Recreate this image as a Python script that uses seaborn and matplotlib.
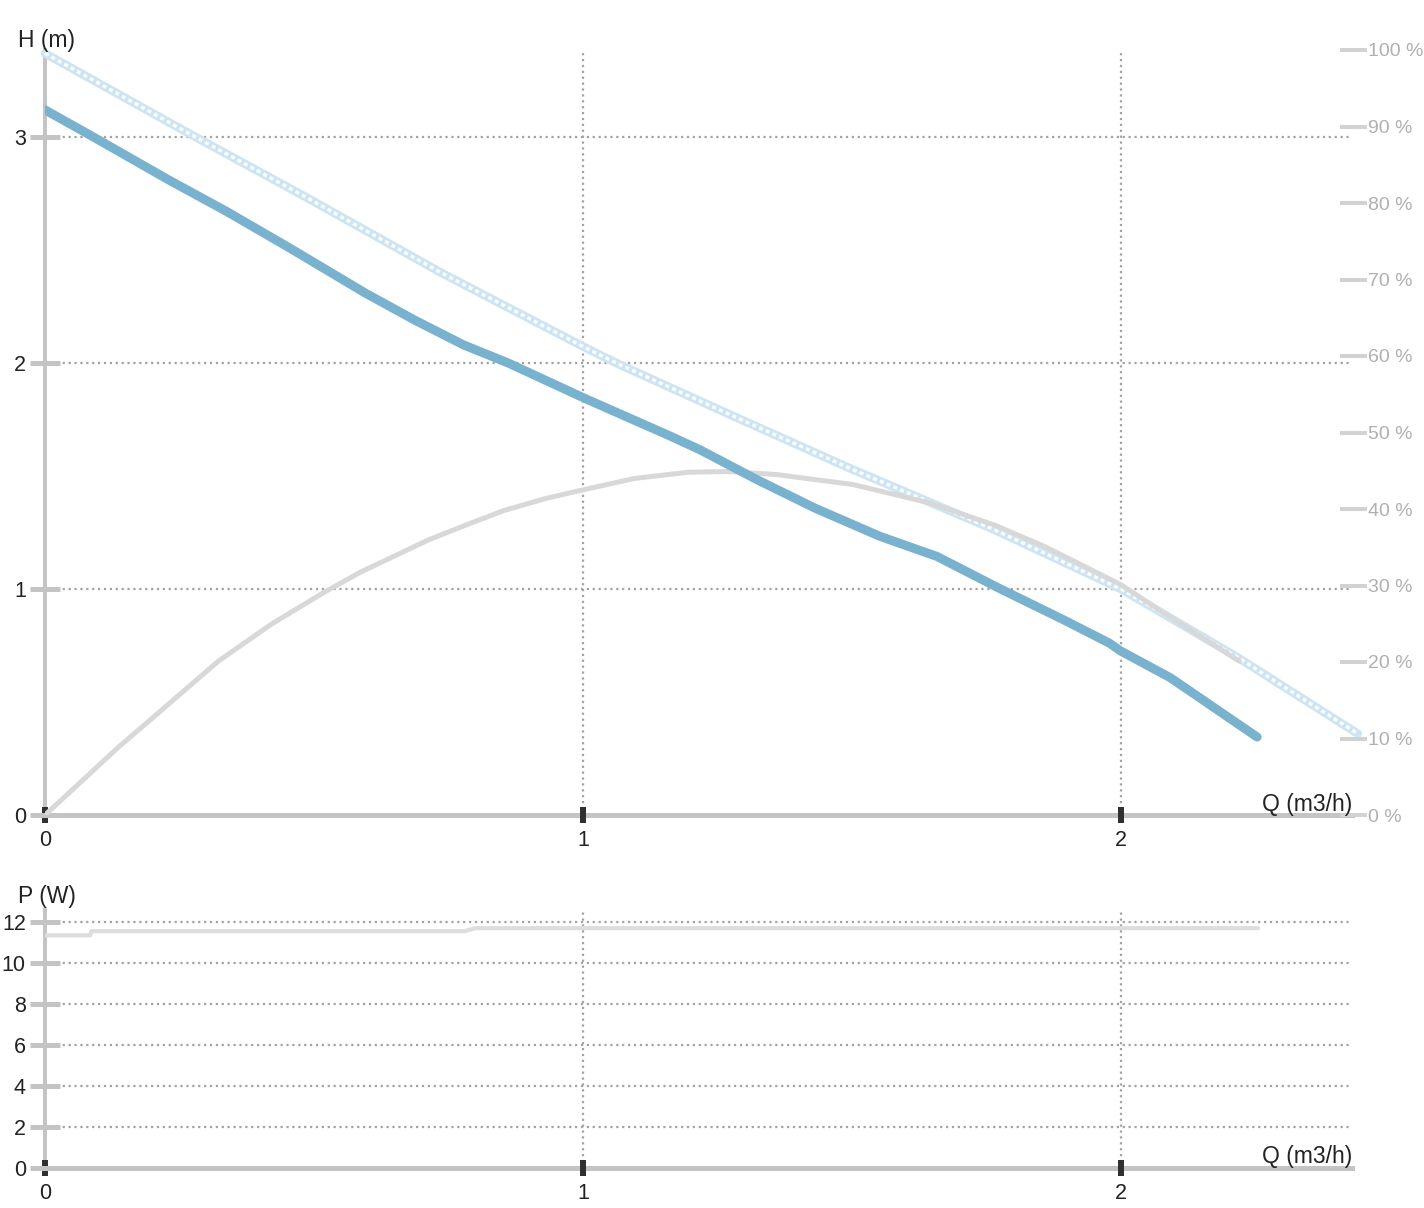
import matplotlib
matplotlib.use("Agg")
import matplotlib.pyplot as plt
import seaborn as sns

sns.set_style("white")
plt.rcParams['font.family'] = ['Liberation Sans', 'DejaVu Sans']

# Curva de operação (azul)
q_curva = [0, 0.09, 0.23, 0.338, 0.454, 0.595, 0.687, 0.778, 0.861, 1.0, 1.159,
           1.2175, 1.324, 1.431, 1.552, 1.658, 1.772, 1.893, 1.978, 2.0, 2.092, 2.253]
h_curva = [3.12, 3.0, 2.81, 2.67, 2.51, 2.31, 2.19, 2.08, 2.0, 1.847, 1.68,
           1.616, 1.483, 1.358, 1.233, 1.144, 1.005, 0.864, 0.761, 0.725, 0.607, 0.345]

# Curva máxima (azul claro, pontilhada)
q_max = [0, 0.272, 0.488, 0.736, 1.0, 1.068, 1.284, 1.5, 1.765, 2.0, 2.215, 2.44]
h_max = [3.37, 3.01, 2.73, 2.40, 2.073, 1.993, 1.76, 1.53, 1.262, 1.0, 0.70, 0.36]

# Rendimento (%)
q_rend = [0, 0.077, 0.137, 0.21, 0.322, 0.422, 0.521, 0.588, 0.714, 0.786, 0.853,
          0.932, 1.0, 1.096, 1.195, 1.27, 1.36, 1.502, 1.644, 1.765, 1.858, 2.0,
          2.071, 2.22]
rend = [0, 5.0, 8.9, 13.3, 20.1, 25.0, 29.2, 31.8, 36.0, 38.0, 39.8,
        41.4, 42.5, 44.0, 44.8, 44.9, 44.5, 43.2, 40.8, 37.9, 35.1, 30.1,
        26.8, 20.1]

# Potência (W)
q_pot = [0, 0.084, 0.086, 0.78, 0.80, 2.255]
pot = [11.35, 11.35, 11.55, 11.55, 11.7, 11.7]

ticks_q = [0, 1, 2]
ticks_h = [0, 1, 2, 3]
ticks_rend = list(range(0, 101, 10))
ticks_p = [0, 2, 4, 6, 8, 10, 12]

W, H = 1424, 1208
fig = plt.figure(figsize=(W / 100, H / 100), dpi=100)

x_max = (1352 - 45) / 538
h_top = (815 - 50) / 226
p_top = (1168 - 910) / 20.5

cinza_eixo = '#c4c4c4'
cinza_grade = '#a3a3a3'


def estilo_eixo(ax, yticks):
    ax.set_xlim(0, x_max)
    ax.set_xticks(ticks_q)
    ax.set_yticks(yticks)
    ax.set_axisbelow(True)
    ax.grid(True, linestyle=':', color=cinza_grade, lw=1.6)
    # sem linha de grade sobre os eixos (valor 0)
    ax.xaxis.get_major_ticks()[0].gridline.set_visible(False)
    ax.yaxis.get_major_ticks()[0].gridline.set_visible(False)
    for lado in ['top', 'right']:
        ax.spines[lado].set_visible(False)
    # eixos abaixo das marcas escuras do eixo Q
    ax.spines['left'].set_color(cinza_eixo)
    ax.spines['left'].set_linewidth(2.9)
    ax.spines['left'].set_zorder(0.4)
    ax.spines['bottom'].set_color(cinza_eixo)
    ax.spines['bottom'].set_linewidth(3.6)
    ax.spines['bottom'].set_zorder(0.4)
    ax.tick_params(axis='y', left=True, direction='inout', length=21.6, width=3.6,
                   color=cinza_eixo, pad=3, labelsize=15.5, labelcolor='#222222')
    ax.tick_params(axis='x', bottom=True, direction='inout', length=11, width=4.3,
                   color='#303030', pad=5, labelsize=15.5, labelcolor='#222222')
    ax.set_xlabel('')
    ax.set_ylabel('')


# Gráfico superior: altura manométrica
ax = fig.add_axes([45 / W, (H - 815) / H, (1352 - 45) / W, (815 - 50) / H])
ax.set_ylim(0, h_top)

sns.lineplot(x=q_max, y=h_max, ax=ax, color='#cde5f2', lw=6.2, zorder=2,
             clip_on=False, solid_capstyle='round')
sns.lineplot(x=q_max, y=h_max, ax=ax, color='white', lw=2.4, zorder=2.1,
             clip_on=False, linestyle=(0, (1.2, 1.0)))
# rendimento desenhado na escala do eixo da direita (0-100 %)
sns.lineplot(x=q_rend, y=[r / 100 * h_top for r in rend], ax=ax,
             color='#d8d8d8', lw=3.6, zorder=3)
sns.lineplot(x=q_curva, y=h_curva, ax=ax, color='#79b2ce', lw=6.5, zorder=4)
estilo_eixo(ax, ticks_h)

ax2 = ax.twinx()
ax2.set_ylim(0, 100)
ax2.set_yticks(ticks_rend)
ax2.set_yticklabels([f'{t} %' for t in ticks_rend])
for lado in ['top', 'left', 'bottom']:
    ax2.spines[lado].set_visible(False)
ax2.spines['right'].set_position(('axes', (1367 - 45) / (1352 - 45)))
ax2.spines['right'].set_visible(False)
ax2.tick_params(axis='y', right=True, direction='in', length=19.4, width=2.9,
                color='#d2d2d2', pad=1, labelsize=14, labelcolor='#b0b0b0')
ax2.grid(False)

fig.text(18 / W, 1 - 40 / H, 'H (m)', fontsize=16.5, color='#222222', va='center')
fig.text(1352 / W, 1 - 804 / H, 'Q (m3/h)', fontsize=16.5, color='#222222',
         va='center', ha='right')

# Gráfico inferior: potência
ax3 = fig.add_axes([45 / W, (H - 1168) / H, (1352 - 45) / W, (1168 - 910) / H])
ax3.set_ylim(0, p_top)
sns.lineplot(x=q_pot, y=pot, ax=ax3, color='#dddddd', lw=3.0, zorder=3)
estilo_eixo(ax3, ticks_p)

fig.text(18 / W, 1 - 897 / H, 'P (W)', fontsize=16.5, color='#222222', va='center')
fig.text(1352 / W, 1 - 1157 / H, 'Q (m3/h)', fontsize=16.5, color='#222222',
         va='center', ha='right')

fig.savefig('out.png', dpi=100)
